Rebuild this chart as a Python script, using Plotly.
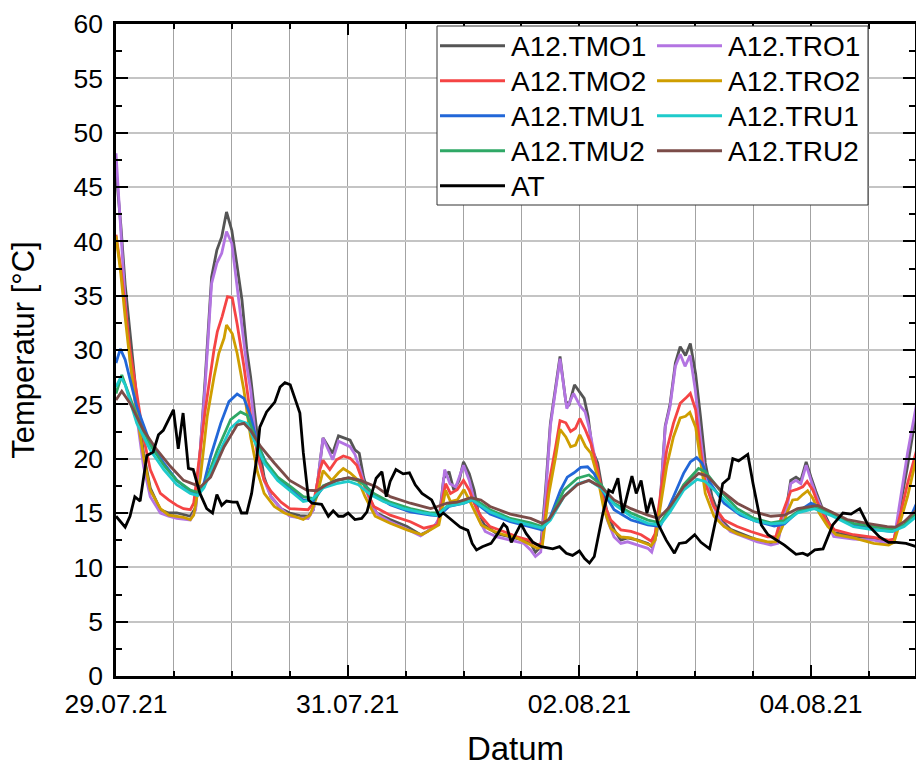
import pandas as pd
import plotly.graph_objects as go

# ---------------- data (hours since 29.07.21 00:00, temperature in °C) ----------------
START = "2021-07-29 00:00"

t_TMO1 = [0, 1, 1.9, 2.9, 4.3, 5.7, 7.1, 9.2, 10.9, 12.6, 14.4, 15.4, 16.5, 17.5, 18.5, 19.8, 20.9, 21.9, 22.9, 24.0,
          25.0, 26.1, 27.1, 27.9, 29.3, 30.7, 32.1, 34.2, 36.0, 38.1, 39.8, 40.9, 41.9, 42.9, 44.0, 44.9, 46.1, 47.5,
          48.5, 49.5, 50.4, 51.3, 52.7, 54.0, 56.8, 60.3, 63.1, 64.5, 65.9, 66.9, 67.9, 69.0, 70.0, 71.1, 72.0, 73.2,
          74.2, 75.0, 76.3, 78.9, 81.7, 84.5, 85.9, 86.9, 88.0, 89.0, 90.0, 91.1, 92.0, 93.2, 93.9, 95.0, 95.9, 97.0,
          97.8, 98.7, 99.8, 100.8, 101.8, 103.2, 104.6, 106.0, 108.1, 110.2, 111.0, 112.0, 112.75, 113.8, 114.8,
          115.9, 116.9, 118.0, 119.0, 120.1, 121.1, 122.1, 123.5, 125.3, 127.3, 130.1, 132.9, 135.7, 137.1, 138.1,
          139.1, 139.8, 140.9, 141.9, 143.0, 144.0, 145.0, 146.8, 148.7, 152.8, 157.0, 160.1, 161.2, 162.6, 164.0,
          165.9]
v_TMO1 = [46.5, 41.5, 36.0, 31.5, 25.5, 20.5, 17.3, 15.3, 15.0, 15.0, 14.8, 14.7, 15.5, 21.0, 27.5, 36.7, 39.2, 40.4,
          42.7, 41.0, 38.0, 34.6, 30.0, 27.5, 22.0, 18.3, 16.5, 15.4, 15.0, 14.75, 14.7, 15.3, 18.3, 21.9, 21.1, 20.5,
          22.1, 21.9, 21.7, 20.8, 20.5, 18.3, 16.2, 15.0, 14.4, 13.75, 13.0, 13.3, 13.75, 14.35, 18.2, 18.8, 17.1, 18.0,
          19.7, 18.6, 17.1, 15.2, 13.9, 13.1, 12.8, 12.5, 12.2, 11.4, 11.9, 17.1, 23.25, 26.9, 29.4, 25.25, 25.0, 26.8,
          26.2, 25.55, 23.9, 20.8, 19.6, 17.1, 15.0, 13.45, 12.5, 12.7, 12.5, 12.2, 11.9, 13.0, 16.0, 23.0, 25.0, 28.8,
          30.3, 29.5, 30.6, 27.8, 23.9, 19.6, 16.5, 14.4, 13.5, 13.0, 12.5, 12.2, 12.4, 14.6, 16.0, 18.0, 18.3, 18.0,
          19.7, 18.3, 17.0, 14.9, 13.2, 12.9, 12.6, 12.2, 12.3, 15.9, 19.3, 24.5]

t_TRO1 = [0, 1, 1.9, 2.9, 4.3, 5.7, 7.1, 9.2, 10.9, 12.6, 14.4, 15.4, 16.5, 17.5, 18.5, 19.8, 20.9, 21.9, 22.9, 24.0,
          25.0, 26.1, 27.1, 27.9, 29.3, 30.7, 32.1, 34.2, 36.0, 38.1, 39.8, 40.9, 41.9, 42.9, 44.9, 46.1, 47.5, 48.5,
          49.5, 50.6, 51.6, 53.0, 54.4, 56.8, 60.3, 63.1, 64.5, 66.2, 67.1, 68.1, 69.2, 70.4, 72.0, 73.2, 74.2, 75.2,
          76.5, 78.9, 81.7, 84.5, 85.9, 86.9, 88.0, 89.0, 90.0, 91.1, 92.0, 93.4, 94.8, 96.1, 97.2, 98.0, 99.1, 100.5,
          101.8, 103.2, 104.6, 106.0, 108.1, 110.2, 111.0, 111.7, 112.75, 113.8, 114.8, 115.9, 116.9, 117.9, 118.95,
          120.0, 121.1, 122.1, 123.5, 125.3, 127.3, 130.1, 132.9, 135.7, 137.1, 138.1, 139.1, 139.8, 140.9, 141.9,
          143.0, 144.0, 145.0, 146.8, 148.7, 152.8, 157.0, 160.1, 161.2, 162.6, 164.0, 165.9]
v_TRO1 = [48.1, 40.5, 34.5, 29.1, 23.9, 19.3, 16.5, 15.0, 14.7, 14.5, 14.4, 14.35, 15.3, 20.8, 26.9, 36.1, 38.0, 38.9,
          40.9, 39.8, 36.1, 32.1, 28.5, 26.3, 20.2, 18.0, 16.5, 15.4, 14.7, 14.55, 14.5, 15.3, 18.3, 21.9, 19.9, 21.6,
          21.3, 21.1, 20.4, 19.0, 17.4, 15.6, 14.8, 14.2, 13.5, 12.9, 13.3, 13.9, 14.7, 19.0, 17.7, 17.4, 19.4, 18.0,
          16.2, 14.4, 13.3, 12.8, 12.5, 12.2, 11.6, 11.0, 11.4, 16.5, 23.0, 26.7, 29.2, 24.6, 26.0, 24.9, 24.3, 22.9,
          20.2, 17.1, 14.35, 12.8, 12.2, 12.35, 12.05, 11.75, 11.4, 12.5, 15.9, 22.9, 24.8, 28.5, 29.6, 28.5, 29.5,
          26.4, 22.0, 18.3, 15.9, 14.2, 13.3, 12.8, 12.35, 12.05, 12.2, 14.35, 15.6, 17.7, 18.0, 17.7, 19.4, 18.0,
          16.7, 14.7, 12.85, 12.6, 12.5, 12.2, 12.5, 16.5, 20.5, 25.1]

t_TMO2 = [0, 1, 1.9, 2.9, 4.3, 5.7, 7.1, 9.2, 10.9, 12.6, 14.0, 15.4, 16.1, 17.2, 18.5, 20.3, 21.0, 22.0, 23.1, 24.1,
          25.1, 26.5, 27.9, 29.3, 30.7, 32.1, 34.2, 36.0, 39.8, 40.9, 42.25, 42.9, 44.3, 45.7, 47.1, 48.5, 49.9, 51.3,
          53.4, 56.8, 61.0, 63.8, 66.6, 68.3, 69.3, 70.7, 72.0, 73.2, 74.2, 75.6, 77.5, 80.3, 83.1, 85.5, 87.3, 88.3,
          89.7, 91.1, 92.0, 93.2, 94.2, 95.2, 96.1, 97.3, 98.4, 99.8, 101.1, 102.5, 104.6, 106.7, 108.8, 110.9, 111.7,
          112.75, 114.1, 115.5, 116.9, 118.0, 119.0, 120.1, 121.1, 122.1, 123.9, 126.0, 128.7, 131.5, 135.0, 136.7,
          138.1, 139.1, 139.8, 141.2, 142.3, 143.2, 144.4, 145.4, 147.1, 148.9, 152.8, 157.0, 160.1, 161.2, 162.6,
          164.0, 165.9]
v_TMO2 = [40.6, 37.5, 34.0, 30.0, 26.0, 22.0, 19.0, 16.8, 16.2, 15.7, 15.4, 15.3, 15.9, 19.6, 24.5, 30.0, 31.7, 33.1,
          34.9, 34.8, 32.4, 28.5, 23.9, 20.5, 18.0, 17.0, 16.0, 15.4, 15.3, 15.9, 19.0, 19.85, 19.0, 19.9, 20.25,
          20.05, 19.4, 17.7, 15.6, 14.8, 14.2, 13.6, 13.9, 17.7, 16.8, 17.15, 18.0, 17.1, 15.9, 14.7, 13.75, 13.3, 12.8,
          12.5, 12.05, 12.2, 17.7, 21.1, 23.5, 23.3, 22.5, 22.8, 23.7, 22.6, 21.4, 19.0, 15.9, 14.35, 13.45, 13.3,
          13.0, 12.4, 13.1, 16.5, 20.8, 23.25, 25.1, 25.55, 26.0, 24.5, 20.8, 17.7, 15.6, 14.35, 13.75, 13.3, 12.8,
          12.8, 15.0, 16.2, 17.0, 17.2, 17.4, 17.9, 17.1, 15.9, 14.35, 13.45, 13.0, 12.75, 12.5, 12.6, 15.0, 17.7,
          20.8]

t_TRO2 = [0, 1, 1.9, 2.9, 4.3, 5.7, 7.1, 9.2, 10.9, 12.6, 14.0, 15.4, 16.1, 17.5, 18.9, 20.3, 21.3, 22.4, 22.9, 24.1,
          25.1, 26.5, 27.9, 29.3, 30.7, 32.8, 34.9, 36.9, 38.8, 40.2, 41.6, 42.9, 44.7, 46.1, 47.1, 48.5, 50.2, 51.6,
          53.7, 56.8, 60.3, 63.4, 65.2, 66.9, 68.3, 69.3, 70.7, 72.1, 73.5, 74.9, 75.7, 77.5, 80.3, 83.1, 85.5, 87.3,
          88.3, 89.7, 91.1, 92.0, 93.2, 94.2, 95.2, 96.1, 97.3, 98.4, 99.8, 101.1, 102.5, 104.6, 106.7, 108.8, 110.9,
          111.7, 112.75, 114.1, 115.5, 116.9, 118.0, 118.9, 120.1, 121.1, 122.1, 123.9, 126.0, 128.7, 131.5, 135.0,
          136.7, 138.1, 139.1, 140.2, 141.2, 142.3, 143.3, 144.4, 145.7, 147.5, 149.2, 152.8, 157.0, 160.1, 161.2,
          162.6, 164.0, 165.9]
v_TRO2 = [40.5, 37.0, 33.0, 29.0, 24.2, 20.2, 17.1, 15.4, 14.8, 14.7, 14.6, 14.4, 14.8, 18.3, 23.9, 27.5, 29.7, 31.1,
          32.3, 31.5, 29.7, 26.3, 22.0, 18.8, 16.8, 15.6, 15.0, 14.7, 14.4, 14.8, 16.5, 18.9, 18.0, 18.7, 19.1, 18.7,
          18.0, 16.5, 14.7, 14.05, 13.45, 13.0, 13.45, 13.9, 17.1, 16.05, 16.2, 17.15, 15.9, 14.7, 13.9, 13.45, 13.0,
          12.7, 12.2, 11.75, 11.9, 16.8, 20.2, 22.7, 22.0, 21.1, 21.25, 22.2, 21.1, 20.5, 18.3, 15.3, 13.6, 12.8, 12.7,
          12.35, 12.0, 12.5, 15.3, 19.3, 22.0, 23.75, 23.9, 24.25, 22.9, 19.6, 16.8, 14.7, 13.75, 13.1, 12.7, 12.35,
          12.35, 13.75, 15.1, 16.2, 16.25, 16.7, 17.05, 16.35, 15.0, 13.75, 13.0, 12.7, 12.2, 12.05, 12.3, 14.35,
          16.5, 20.2]

t_TMU1 = [0, 0.9, 1.9, 4.3, 7.1, 9.9, 12.6, 15.4, 16.9, 18.2, 19.6, 21.7, 23.4, 25.1, 26.5, 27.9, 29.3, 31.4, 34.2,
          36.9, 38.8, 40.9, 42.9, 45.7, 48.2, 50.6, 53.4, 56.8, 61.0, 65.2, 66.9, 69.0, 72.1, 73.8, 75.6, 77.5, 81.7,
          85.9, 88.3, 90.0, 92.1, 93.5, 94.9, 96.3, 97.7, 99.1, 100.5, 103.2, 106.7, 110.2, 112.75, 115.5, 117.6,
          119.0, 120.3, 121.4, 123.2, 126.0, 129.4, 132.9, 136.4, 138.5, 141.2, 144.0, 145.9, 148.5, 152.8, 157.0,
          160.8, 163.3, 165.0, 165.9]
v_TMU1 = [28.8, 30.1, 29.1, 24.8, 21.4, 19.6, 18.0, 17.0, 16.7, 17.7, 20.2, 23.25, 25.25, 25.95, 25.55, 23.9, 21.4,
          19.3, 17.9, 16.9, 16.2, 16.1, 17.4, 18.0, 18.2, 18.0, 16.7, 15.75, 15.1, 14.8, 14.75, 15.6, 15.9, 16.2, 15.6,
          14.9, 14.2, 13.75, 13.45, 14.65, 17.1, 18.3, 18.7, 19.2, 19.25, 18.6, 17.3, 15.3, 14.35, 13.9, 13.75, 16.5,
          18.65, 19.7, 20.1, 19.6, 17.7, 15.9, 14.8, 14.2, 13.8, 14.0, 15.1, 15.9, 15.5, 14.8, 13.9, 13.5, 13.3, 13.9,
          15.0, 15.9]

t_TMU2 = [0, 1.2, 4.3, 7.1, 9.9, 12.6, 15.4, 16.9, 18.2, 21.0, 23.75, 25.8, 27.2, 28.6, 30.7, 33.5, 36.25, 38.8, 41.2,
          42.9, 45.7, 48.2, 50.6, 53.4, 56.8, 61.0, 65.2, 66.9, 69.0, 72.1, 74.0, 75.6, 77.5, 81.7, 85.9, 88.3, 90.0,
          92.8, 95.6, 98.0, 100.5, 103.2, 106.7, 110.2, 112.75, 114.8, 117.6, 120.7, 122.1, 125.3, 128.7, 132.2,
          135.7, 138.5, 141.2, 144.7, 148.5, 152.8, 157.0, 160.8, 163.3, 165.9]
v_TMU2 = [26.0, 27.7, 23.9, 21.25, 19.4, 18.0, 17.1, 16.9, 17.4, 20.8, 23.6, 24.3, 24.0, 22.2, 19.9, 18.3, 17.4, 16.5,
          16.3, 17.5, 18.0, 18.2, 17.9, 16.8, 16.0, 15.4, 15.0, 15.0, 15.75, 16.05, 16.35, 15.9, 15.3, 14.5, 14.1,
          13.75, 14.5, 17.1, 18.2, 18.5, 17.6, 15.9, 15.0, 14.35, 14.1, 15.4, 17.6, 19.1, 18.8, 17.0, 15.4, 14.5, 14.1,
          14.3, 15.1, 15.6, 14.9, 14.05, 13.75, 13.5, 13.9, 15.0]

t_TRU1 = [0, 1.0, 1.9, 4.3, 7.1, 9.9, 12.6, 15.4, 16.9, 18.2, 21.0, 23.75, 25.5, 27.2, 28.6, 30.7, 33.5, 36.25, 38.8,
          40.5, 42.9, 45.7, 48.2, 50.2, 52.7, 55.4, 59.6, 63.8, 66.6, 68.6, 72.1, 73.8, 75.6, 77.5, 81.7, 85.9, 88.3,
          90.0, 92.8, 95.6, 98.0, 100.5, 103.2, 106.7, 110.2, 112.75, 114.8, 117.6, 120.4, 122.1, 125.3, 128.7, 132.2,
          135.7, 138.5, 141.2, 144.7, 148.5, 152.8, 157.0, 160.8, 163.3, 165.9]
v_TRU1 = [26.6, 27.5, 26.8, 23.25, 20.8, 19.0, 17.6, 16.8, 16.6, 17.3, 20.2, 22.8, 23.5, 23.25, 21.7, 19.6, 18.0, 17.0,
          16.05, 16.2, 17.3, 17.7, 17.9, 17.6, 16.7, 16.05, 15.4, 15.0, 14.8, 15.6, 15.9, 16.2, 15.65, 15.1, 14.35,
          13.9, 13.6, 14.35, 16.5, 17.7, 18.0, 17.3, 15.8, 14.7, 14.05, 13.9, 15.1, 17.1, 18.1, 17.9, 16.5, 15.1, 14.3,
          14.0, 14.1, 15.0, 15.4, 14.7, 13.75, 13.45, 13.3, 13.75, 14.7]

t_TRU2 = [0, 1.2, 2.9, 5.7, 8.5, 11.25, 14.0, 17.5, 19.6, 22.4, 25.1, 26.5, 27.9, 30.0, 32.8, 36.0, 39.5, 41.6, 43.6,
          45.7, 48.2, 50.6, 54.0, 56.8, 61.0, 65.2, 66.6, 68.6, 70.7, 73.5, 75.6, 77.5, 81.7, 85.9, 88.3, 89.7, 92.8,
          95.6, 98.0, 100.5, 103.2, 106.7, 110.2, 112.4, 114.8, 117.6, 120.7, 122.5, 125.3, 128.7, 132.2, 135.7,
          138.5, 141.2, 145.4, 148.7, 151.5, 155.6, 159.8, 161.5, 163.3, 165.9]
v_TRU2 = [25.4, 26.2, 25.1, 22.6, 20.8, 19.3, 18.0, 17.4, 18.3, 21.1, 23.1, 23.25, 22.6, 21.1, 19.6, 18.0, 17.1, 17.05,
          17.6, 18.0, 18.25, 18.0, 17.4, 16.5, 15.9, 15.4, 15.6, 15.9, 16.0, 16.4, 16.2, 15.6, 14.9, 14.5, 14.05, 14.4,
          16.5, 17.6, 18.0, 17.4, 16.2, 15.4, 14.8, 14.5, 15.6, 17.4, 18.65, 18.4, 17.1, 15.9, 15.1, 14.7, 14.8, 15.4,
          15.7, 15.0, 14.4, 14.05, 13.75, 13.7, 14.2, 15.3]

t_AT = [0, 1.9, 2.9, 3.9, 5.0, 6.4, 7.7, 8.8, 9.8, 11.9, 12.9, 13.9, 15.0, 16.0, 17.4, 18.8, 20.0, 20.9, 21.9, 22.9,
        24.2, 25.1, 26.0, 27.1, 28.1, 29.2, 29.8, 31.2, 32.9, 34.0, 35.0, 36.1, 37.1, 38.1, 38.8, 39.9, 40.6, 42.6,
        44.0, 45.0, 46.1, 47.1, 48.1, 49.5, 50.9, 52.0, 53.0, 53.9, 55.1, 56.0, 56.8, 58.0, 59.5, 60.8, 62.0, 63.4,
        65.4, 67.0, 67.8, 69.9, 71.3, 72.9, 73.8, 74.7, 75.9, 77.7, 79.1, 80.3, 81.0, 81.9, 82.8, 83.9, 85.0, 86.4,
        88.1, 90.5, 91.9, 93.3, 94.6, 96.0, 97.1, 98.1, 99.1, 100.9, 102.1, 102.9, 104.0, 105.0, 106.0, 106.9, 107.8,
        108.8, 110.0, 110.9, 112.3, 114.0, 115.7, 116.7, 118.1, 119.9, 121.2, 123.0, 125.0, 125.7, 127.0, 127.8,
        129.0, 129.9, 130.9, 132.0, 133.0, 133.7, 135.1, 136.8, 138.5, 140.9, 142.3, 143.3, 144.8, 146.5, 148.5,
        150.6, 152.3, 154.1, 155.8, 158.2, 160.1, 161.7, 163.7, 165.8]
v_AT = [14.7, 13.7, 14.7, 16.5, 16.1, 20.3, 20.6, 22.2, 22.6, 24.5, 20.9, 24.2, 19.1, 19.0, 16.8, 15.4, 15.0, 16.7,
        15.7, 16.1, 16.0, 16.0, 15.0, 15.0, 16.8, 20.2, 22.9, 24.3, 25.2, 26.6, 27.0, 26.8, 25.5, 24.2, 20.6, 16.2,
        15.9, 15.8, 14.7, 15.2, 14.7, 14.7, 15.0, 14.4, 14.5, 15.1, 16.8, 18.2, 18.8, 16.5, 17.9, 19.0, 18.6, 18.7,
        17.6, 16.8, 16.2, 14.7, 15.0, 14.2, 13.7, 13.4, 12.2, 11.6, 11.9, 12.2, 13.1, 14.0, 13.7, 12.3, 13.1, 14.0,
        13.1, 12.3, 11.9, 11.7, 11.9, 11.3, 11.1, 11.5, 10.8, 10.4, 11.0, 15.0, 17.1, 16.9, 18.2, 15.0, 16.8, 18.4,
        16.8, 18.0, 15.0, 16.4, 14.0, 12.5, 11.3, 12.2, 12.3, 13.0, 12.3, 11.7, 15.9, 17.7, 18.2, 20.0, 19.8, 20.1,
        20.4, 17.7, 15.6, 13.9, 13.0, 12.5, 12.05, 11.2, 11.3, 11.1, 11.6, 11.7, 13.9, 15.0, 14.9, 15.4, 13.9, 12.8,
        12.3, 12.3, 12.2, 11.9]

series_names = ["A12.TMO1", "A12.TRO1", "A12.TMO2", "A12.TRO2", "A12.TMU1", "A12.TMU2", "A12.TRU1", "A12.TRU2", "AT"]
series_t = [t_TMO1, t_TRO1, t_TMO2, t_TRO2, t_TMU1, t_TMU2, t_TRU1, t_TRU2, t_AT]
series_v = [v_TMO1, v_TRO1, v_TMO2, v_TRO2, v_TMU1, v_TMU2, v_TRU1, v_TRU2, v_AT]
colors = {"A12.TMO1": "#555555", "A12.TRO1": "#B374E2", "A12.TMO2": "#F54444", "A12.TRO2": "#CF9E00",
          "A12.TMU1": "#2267D8", "A12.TMU2": "#2FA866", "A12.TRU1": "#1FCBCB", "A12.TRU2": "#7B4C48", "AT": "#000000"}

# legend layout: column 1 and column 2 entries (as in the reference)
legend_col1 = ["A12.TMO1", "A12.TMO2", "A12.TMU1", "A12.TMU2", "AT"]
legend_col2 = ["A12.TRO1", "A12.TRO2", "A12.TRU1", "A12.TRU2"]

# ---------------- figure ----------------
W, H = 916, 767
ML, MR, MT, MB = 116, 1, 24, 91
PW, PH = W - ML - MR, H - MT - MB


def px(x):
    return (x - ML) / PW


def py(y):
    return (MT + PH - y) / PH


base = pd.Timestamp(START)
FONT = "Arial, 'Liberation Sans', sans-serif"

fig = go.Figure()
for name, tt, vv in zip(series_names, series_t, series_v):
    x = base + pd.to_timedelta(tt, unit="h")
    fig.add_trace(go.Scatter(x=x, y=vv, mode="lines", name=name, showlegend=False,
                             line=dict(color=colors[name], width=2.8)))

shapes = [dict(type="rect", xref="paper", yref="paper", x0=px(437), x1=px(868), y0=py(205), y1=py(26),
               line=dict(color="#333333", width=1), fillcolor="white", layer="above")]
annotations = []
row_y0, row_dy = 45.7, 35
for col, (names, lx0, lx1, tx) in enumerate([(legend_col1, 440, 505, 509), (legend_col2, 657, 722, 726)]):
    for r, name in enumerate(names):
        yy = row_y0 + r * row_dy
        shapes.append(dict(type="line", xref="paper", yref="paper", x0=px(lx0), x1=px(lx1), y0=py(yy), y1=py(yy),
                           line=dict(color=colors[name], width=3), layer="above"))
        annotations.append(dict(text=name, xref="paper", yref="paper", x=px(tx), y=py(yy + 1), xanchor="left",
                                yanchor="middle", showarrow=False, font=dict(family=FONT, size=28, color="black")))

fig.update_layout(
    width=W, height=H, margin=dict(l=ML, r=MR, t=MT, b=MB, autoexpand=False),
    paper_bgcolor="white", plot_bgcolor="white",
    font=dict(family=FONT, color="black"),
    shapes=shapes, annotations=annotations, showlegend=False,
)
fig.update_xaxes(
    type="date", range=[base, base + pd.Timedelta(hours=165.55)], automargin=False,
    tick0=base, dtick=2 * 86400000, tickformat="%d.%m.%y",
    ticks="inside", ticklen=11, tickwidth=2, tickcolor="black",
    showline=True, linecolor="black", linewidth=2.5, mirror="allticks",
    showgrid=True, gridcolor="#a3a3a3", gridwidth=1,
    minor=dict(dtick=12 * 3600000, ticks="inside", ticklen=5, tickwidth=2, tickcolor="black",
               showgrid=True, gridcolor="#a3a3a3", gridwidth=1),
    tickfont=dict(size=26.5), ticklabelstandoff=2,
    title=dict(text="Datum", font=dict(size=33), standoff=23),
    zeroline=False,
)
fig.update_yaxes(
    range=[0, 60], tick0=0, dtick=5, automargin=False,
    ticks="inside", ticklen=12, tickwidth=2, tickcolor="black",
    showline=True, linecolor="black", linewidth=2.5, mirror="allticks",
    showgrid=True, gridcolor="#c4c4c4", gridwidth=1.5,
    minor=dict(dtick=2.5, ticks="inside", ticklen=6, tickwidth=2, tickcolor="black", showgrid=False),
    tickfont=dict(size=26.5), ticklabelstandoff=5,
    title=dict(text="Temperatur [°C]", font=dict(size=31), standoff=30),
    zeroline=False,
)

# page body without the browser's default margin, so the figure fills the window
fig.write_html("out.html", config={"displayModeBar": False},
               post_script="document.body.style.margin='0';")
